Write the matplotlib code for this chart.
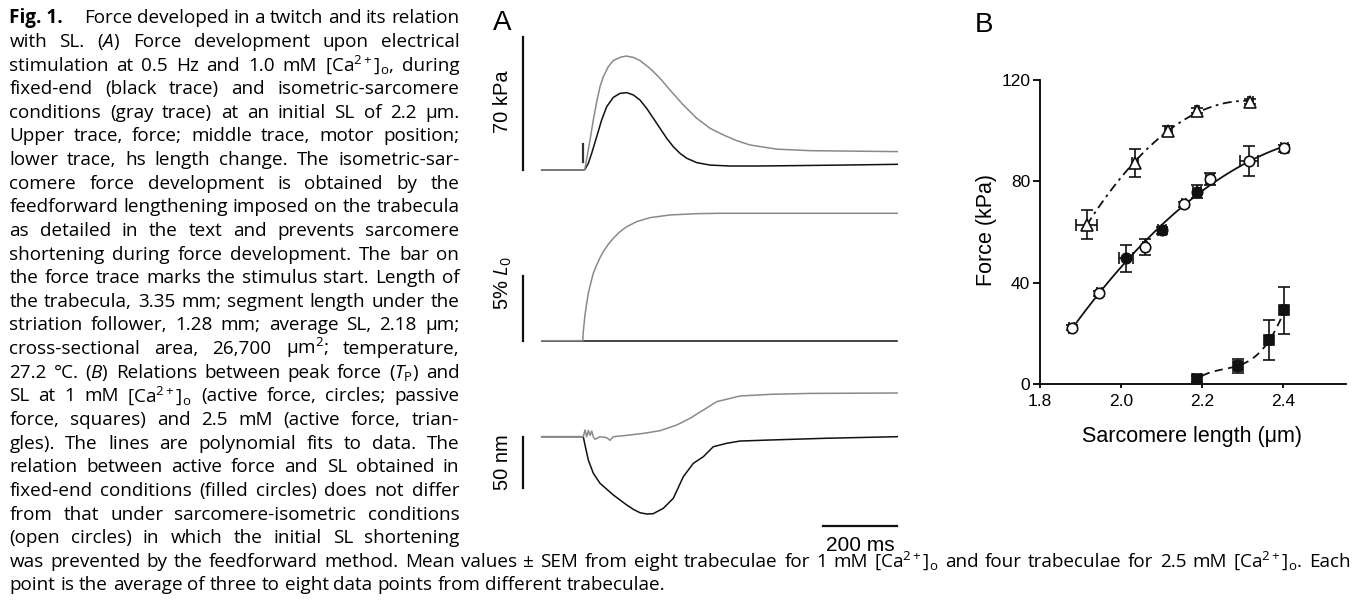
import numpy as np
import matplotlib
matplotlib.use("Agg")
import matplotlib.pyplot as plt

plt.rcParams['font.family'] = ['Liberation Sans', 'DejaVu Sans']
plt.rcParams['mathtext.fontset'] = 'custom'
plt.rcParams['mathtext.rm'] = 'Open Sans'
plt.rcParams['mathtext.it'] = 'Open Sans:italic'
plt.rcParams['mathtext.bf'] = 'Open Sans:bold'

W, H = 1366, 604
CAP_FONT = ['Open Sans', 'DejaVu Sans']
GRAY = '#8a8a8a'
BLACK = '#111111'

# ---------------- Panel A data (time in ms) ----------------
stim_t = 112.4
stim_force = [4.1, 13.8]

force_gray_t = [0, 114.4, 117, 130.6, 139.5, 148.7, 157.6, 166.5, 180.0, 193.5, 211.6,
                227.9, 247.6, 265.7, 292.7, 319.8, 346.8, 382.8, 419, 455, 490.9,
                527, 563, 635, 725, 815, 961]
force_gray_kpa = [0, 0, 0.9, 15.8, 26.4, 36.0, 43.9, 49.2, 54.5, 57.7, 59.4,
                  60.1, 59.4, 57.7, 53.6, 48.4, 42.2, 34.3, 27.3, 22.0, 18.5,
                  15.5, 13.2, 11.0, 10.2, 10.0, 9.7]

force_black_t = [0, 114.4, 117, 126, 135.1, 148.7, 162.1, 175.7, 193.5, 211.6, 229.8,
                 247.6, 265.7, 283.8, 301.7, 319.8, 337.9, 355.7, 373.8, 391.9, 419,
                 455, 509, 580, 680, 815, 961]
force_black_kpa = [0, 0, 0.4, 3.5, 8.8, 17.6, 26.4, 33.4, 38.3, 40.4, 40.8,
                   39.6, 36.9, 32.5, 27.3, 22.0, 16.7, 12.3, 8.8, 6.2, 3.9,
                   2.6, 2.1, 2.1, 2.3, 2.6, 3.0]

motor_gray_t = [0, 111, 112.4, 117, 121.6, 126, 132.4, 139.5, 148.7, 157.6, 166.5,
                180, 193.5, 211.6, 229.8, 256.8, 292.7, 346.8, 419, 482, 961]
motor_gray_pct = [0, 0, 0.7, 2.0, 2.91, 3.68, 4.46, 5.24, 5.88, 6.45, 6.92,
                  7.49, 7.96, 8.47, 8.86, 9.25, 9.56, 9.77, 9.87, 9.9, 9.9]

motor_black_t = [0, 961]
motor_black_pct = [0, 0]

hs_gray_t = [0, 112.4, 117, 121.6, 126, 130.6, 135.1, 139.5, 144, 157.6, 175.7, 184.6,
             193.5, 229.8, 274.6, 319.8, 364.9, 400.9, 436.8, 473, 536, 617, 725, 961]
hs_gray_nm = [0, 0, 6.5, 0, 6.0, 1.3, 5.5, 0, -2.5, 0, -1.0, -3.5,
              0, 1.3, 3.2, 5.8, 11.3, 17.8, 25.8, 33.9, 39.4, 41.0, 41.9, 42.3]

hs_black_t = [0, 112.4, 117, 126, 139.5, 157.6, 193.5, 229.8, 247.6, 265.7, 283.8,
              301, 328.8, 355.8, 382.8, 409.8, 436.8, 463.8, 499.8, 536, 617, 770, 961]
hs_black_nm = [0, 0, -8.0, -22.6, -35.4, -45.1, -56.4, -66.1, -70.3, -73.6, -74.8,
               -74.6, -69.3, -59.6, -38.7, -25.8, -19.4, -9.7, -6.4, -4.2, -3.2, -1.5, 0]

# ---------------- Panel B data ----------------
tri_x = [1.915, 2.035, 2.117, 2.187, 2.319]
tri_y = [63.0, 87.3, 100.0, 107.8, 111.5]
tri_yerr = [5.7, 5.5, 2.0, 1.0, 1.0]
tri_xerr = [0.025, 0.008, 0.008, 0.005, 0.006]

open_x = [1.878, 1.946, 2.060, 2.156, 2.220, 2.316, 2.403]
open_y = [22.3, 35.9, 54.1, 71.0, 80.9, 88.0, 93.0]
open_yerr = [1.0, 1.0, 3.2, 1.0, 2.5, 5.8, 1.5]
open_xerr = [0.006, 0.006, 0.005, 0.005, 0.01, 0.022, 0.008]

fill_x = [2.012, 2.102, 2.188]
fill_y = [49.7, 60.7, 75.9]
fill_yerr = [5.3, 1.5, 2.5]
fill_xerr = [0.018, 0.01, 0.01]

sq_x = [2.187, 2.288, 2.366, 2.403]
sq_y = [2.1, 7.3, 17.4, 29.2]
sq_yerr = [1.0, 2.8, 7.8, 9.2]
sq_xerr = [0.01, 0.005, 0.005, 0.005]

# ---------------- caption text ----------------
caption_lead = "Fig. 1."
caption_lines = [
    "Force developed in a twitch and its relation",
    r"with SL. ($A$) Force development upon electrical",
    r"stimulation at 0.5 Hz and 1.0 mM [Ca$^{2+}$]$_\mathrm{o}$, during",
    "fixed-end (black trace) and isometric-sarcomere",
    "conditions (gray trace) at an initial SL of 2.2 μm.",
    "Upper trace, force; middle trace, motor position;",
    "lower trace, hs length change. The isometric-sar-",
    "comere force development is obtained by the",
    "feedforward lengthening imposed on the trabecula",
    "as detailed in the text and prevents sarcomere",
    "shortening during force development. The bar on",
    "the force trace marks the stimulus start. Length of",
    "the trabecula, 3.35 mm; segment length under the",
    "striation follower, 1.28 mm; average SL, 2.18 μm;",
    r"cross-sectional area, 26,700 μm$^2$; temperature,",
    r"27.2 °C. ($B$) Relations between peak force ($T_\mathrm{P}$) and",
    r"SL at 1 mM [Ca$^{2+}$]$_\mathrm{o}$ (active force, circles; passive",
    "force, squares) and 2.5 mM (active force, trian-",
    "gles). The lines are polynomial fits to data. The",
    "relation between active force and SL obtained in",
    "fixed-end conditions (filled circles) does not differ",
    "from that under sarcomere-isometric conditions",
    "(open circles) in which the initial SL shortening",
    r"was prevented by the feedforward method. Mean values ± SEM from eight trabeculae "
    r"for 1 mM [Ca$^{2+}$]$_\mathrm{o}$ and four trabeculae for 2.5 mM [Ca$^{2+}$]$_\mathrm{o}$. Each",
    "point is the average of three to eight data points from different trabeculae.",
]

fig = plt.figure(figsize=(W / 100, H / 100), dpi=100)


def px_axes(x0, x1, y0, y1):
    ax = fig.add_axes([x0 / W, 1 - y1 / H, (x1 - x0) / W, (y1 - y0) / H])
    ax.set_axis_off()
    return ax


# horizontal mapping for panel A: t = (px - T0_PX) * MS_PER_PX
T0_PX, MS_PER_PX = 541.7, 2.703
AX0, AX1 = 480, 915
xlim_a = ((AX0 - T0_PX) * MS_PER_PX, (AX1 - T0_PX) * MS_PER_PX)
bar_t = (522.7 - T0_PX) * MS_PER_PX


def vlim(y0, y1, base_px, px_per_unit):
    return ((base_px - y1) / px_per_unit, (base_px - y0) / px_per_unit)


TRACE_LW = 1.1

# force
ax_f = px_axes(AX0, AX1, 10, 195)
ax_f.set_xlim(xlim_a)
ax_f.set_ylim(vlim(10, 195, 170.0, 1.896))
ax_f.plot(force_black_t, force_black_kpa, color=BLACK, lw=TRACE_LW)
ax_f.plot(force_gray_t, force_gray_kpa, color=GRAY, lw=TRACE_LW)
ax_f.plot([stim_t, stim_t], stim_force, color='#333333', lw=1.6)
ax_f.plot([bar_t, bar_t], [0, 70], color=BLACK, lw=1.6)

# motor position
ax_m = px_axes(AX0, AX1, 195, 360)
ax_m.set_xlim(xlim_a)
ax_m.set_ylim(vlim(195, 360, 340.7, 12.87))
ax_m.plot(motor_black_t, motor_black_pct, color=BLACK, lw=TRACE_LW)
ax_m.plot(motor_gray_t, motor_gray_pct, color=GRAY, lw=TRACE_LW)
ax_m.plot([bar_t, bar_t], [0, 5], color=BLACK, lw=1.6)

# half-sarcomere length
ax_h = px_axes(AX0, AX1, 360, 560)
ax_h.set_xlim(xlim_a)
ax_h.set_ylim(vlim(360, 560, 436.7, 1.033))
ax_h.plot(hs_black_t, hs_black_nm, color=BLACK, lw=TRACE_LW)
ax_h.plot(hs_gray_t, hs_gray_nm, color=GRAY, lw=TRACE_LW)
ax_h.plot([bar_t, bar_t], [-50, 0], color=BLACK, lw=1.6)
ax_h.plot([761, 961], [-86.4, -86.4], color=BLACK, lw=1.6)

fig.text(502 / W, 1 - 102 / H, "70 kPa", rotation=90, ha='center', va='center', fontsize=14.5)
fig.text(503 / W, 1 - 283 / H, "5% $L_0$", rotation=90, ha='center', va='center', fontsize=14.5)
fig.text(503 / W, 1 - 462.5 / H, "50 nm", rotation=90, ha='center', va='center', fontsize=14.5)
fig.text(860 / W, 1 - 550.7 / H, "200 ms", ha='center', va='baseline', fontsize=15)
fig.text(493 / W, 1 - 30 / H, "A", ha='left', va='baseline', fontsize=20)
fig.text(975 / W, 1 - 31.7 / H, "B", ha='left', va='baseline', fontsize=20)

# ---------------- Panel B ----------------
ax_b = fig.add_axes([1040 / W, 1 - 384.3 / H, (1346 - 1040) / W, (384.3 - 80) / H])
ax_b.set_xlim(1.8, 2.555)
ax_b.set_ylim(0, 120)
for s in ['top', 'right']:
    ax_b.spines[s].set_visible(False)
for s in ['left', 'bottom']:
    ax_b.spines[s].set_linewidth(1.3)
ax_b.set_xticks([1.8, 2.0, 2.2, 2.4])
ax_b.set_xticklabels(['1.8', '2.0', '2.2', '2.4'])
ax_b.set_yticks([0, 40, 80, 120])
ax_b.tick_params(axis='y', direction='out', length=5, width=1.3, labelsize=12.5, pad=2)
ax_b.tick_params(axis='x', direction='out', length=3, width=1.3, labelsize=12.5, pad=4)

circ_x = np.r_[open_x, fill_x]
circ_y = np.r_[open_y, fill_y]
c_fit = np.polyfit(circ_x, circ_y, 2)
xs = np.linspace(min(open_x), max(open_x), 120)
ax_b.plot(xs, np.polyval(c_fit, xs), color=BLACK, lw=1.3, zorder=2)

t_fit = np.polyfit(tri_x, tri_y, 2)
xs = np.linspace(min(tri_x), max(tri_x), 120)
ax_b.plot(xs, np.polyval(t_fit, xs), color=BLACK, lw=1.3, dashes=(5, 2.5, 1.5, 2.5), zorder=2)

s_fit = np.polyfit(sq_x, sq_y, 3)
xs = np.linspace(2.2, max(sq_x), 80)
ax_b.plot(xs, np.polyval(s_fit, xs), color=BLACK, lw=1.3, dashes=(4.5, 3), zorder=2)

eb = dict(fmt='none', ecolor=BLACK, elinewidth=1.2, capsize=4, capthick=1.2, zorder=3, clip_on=False)
ax_b.errorbar(tri_x, tri_y, yerr=tri_yerr, xerr=tri_xerr, **eb)
ax_b.errorbar(open_x, open_y, yerr=open_yerr, xerr=open_xerr, **eb)
ax_b.errorbar(fill_x, fill_y, yerr=fill_yerr, xerr=fill_xerr, **eb)
ax_b.errorbar(sq_x, sq_y, yerr=sq_yerr, xerr=sq_xerr, **eb)

ax_b.plot(tri_x, tri_y, '^', ms=8, mfc='white', mec=BLACK, mew=1.2, zorder=4, clip_on=False)
ax_b.plot(open_x, open_y, 'o', ms=7.5, mfc='white', mec=BLACK, mew=1.2, zorder=4, clip_on=False)
ax_b.plot(fill_x, fill_y, 'o', ms=7.5, mfc=BLACK, mec=BLACK, mew=1.2, zorder=4, clip_on=False)
ax_b.plot(sq_x, sq_y, 's', ms=6.5, mfc=BLACK, mec=BLACK, mew=1.2, zorder=4, clip_on=False)

fig.text(986.7 / W, 1 - 230 / H, "Force (kPa)", rotation=90, ha='center', va='center', fontsize=15.5)
fig.text(1192.3 / W, 1 - 441.7 / H, "Sarcomere length (μm)", ha='center', va='baseline', fontsize=15.5)

# ---------------- justified caption ----------------
renderer = fig.canvas.get_renderer()


def width_of(s, size, weight='normal'):
    t = fig.text(0, 0, s, fontsize=size, family=CAP_FONT, fontweight=weight)
    w = t.get_window_extent(renderer).width
    t.remove()
    return w


base = 10.0
ref_words = caption_lines[8].split()
nat = sum(width_of(w_, base) for w_ in ref_words) + \
    (len(ref_words) - 1) * (width_of("a a", base) - width_of("aa", base))
cap_size = base * 449.0 / nat
space = width_of("a a", cap_size) - width_of("aa", cap_size)

LEFT, RIGHT, RIGHT_WIDE = 9.3, 459.3, 1350.7
Y0, DY = 23.3, 23.63
LEAD_GAP = 21.0


def put_line(words, y_px, right, justify, lead=None):
    items = ([(lead, 'bold')] if lead else []) + [(w_, 'normal') for w_ in words]
    texts = [fig.text(0, 1 - y_px / H, s, fontsize=cap_size, family=CAP_FONT, fontweight=wt,
                      ha='left', va='baseline') for s, wt in items]
    widths = [t.get_window_extent(renderer).width for t in texts]
    n_gap = len(texts) - 1 - (1 if lead else 0)
    gap = space
    if justify and n_gap > 0:
        gap = (right - LEFT - sum(widths) - (LEAD_GAP if lead else 0)) / n_gap
    x = LEFT
    for i, (t, w_) in enumerate(zip(texts, widths)):
        t.set_x(x / W)
        x += w_ + (LEAD_GAP if (lead and i == 0) else gap)


for i, line in enumerate(caption_lines):
    y = Y0 + i * DY
    last = i == len(caption_lines) - 1
    right = RIGHT_WIDE if i >= 23 else RIGHT
    put_line(line.split(), y, right, not last, lead=caption_lead if i == 0 else None)

fig.savefig("out.png", dpi=100)
